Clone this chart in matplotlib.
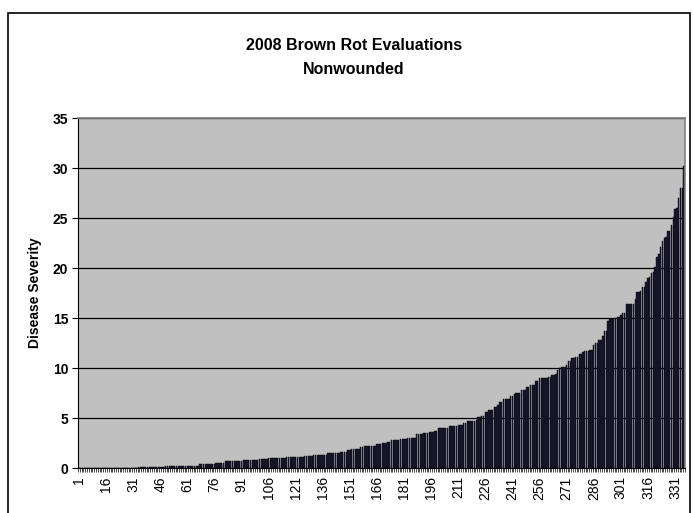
import numpy as np
import matplotlib
matplotlib.use("Agg")
import matplotlib.pyplot as plt
from matplotlib.patches import Rectangle
from matplotlib.ticker import MultipleLocator, FixedLocator

plt.rcParams['font.family'] = ['Liberation Sans', 'DejaVu Sans']

# Disease severity of each evaluated entry, sorted from lowest to highest
severity = [
    0, 0, 0, 0, 0, 0, 0, 0, 0, 0, 0, 0, 0, 0, 0,
    0, 0, 0, 0, 0, 0, 0, 0, 0, 0, 0, 0, 0, 0, 0,
    0, 0, 0, 0.1, 0.1, 0.1, 0.1, 0.1, 0.1, 0.1, 0.1, 0.1, 0.1, 0.1, 0.1,
    0.1, 0.1, 0.1, 0.2, 0.2, 0.2, 0.2, 0.2, 0.2, 0.2, 0.2, 0.2, 0.2, 0.2, 0.2,
    0.2, 0.2, 0.2, 0.2, 0.2, 0.2, 0.2, 0.4, 0.4, 0.4, 0.4, 0.4, 0.4, 0.4, 0.4,
    0.4, 0.5, 0.5, 0.5, 0.5, 0.5, 0.7, 0.7, 0.7, 0.7, 0.7, 0.7, 0.7, 0.7, 0.7,
    0.7, 0.8, 0.8, 0.8, 0.8, 0.8, 0.8, 0.8, 0.8, 0.8, 0.9, 0.9, 0.9, 0.9, 0.9,
    1.0, 1.0, 1.0, 1.0, 1.0, 1.0, 1.0, 1.0, 1.0, 1.0, 1.1, 1.1, 1.1, 1.1, 1.1,
    1.1, 1.1, 1.1, 1.1, 1.1, 1.2, 1.2, 1.2, 1.2, 1.2, 1.35, 1.35, 1.35, 1.35, 1.35,
    1.35, 1.35, 1.35, 1.5, 1.5, 1.5, 1.5, 1.5, 1.5, 1.5, 1.6, 1.6, 1.6, 1.6, 1.8,
    1.8, 1.95, 1.95, 1.95, 1.95, 1.95, 2.1, 2.1, 2.2, 2.2, 2.2, 2.2, 2.2, 2.2, 2.2,
    2.4, 2.4, 2.4, 2.5, 2.5, 2.5, 2.65, 2.65, 2.8, 2.8, 2.8, 2.8, 2.8, 2.9, 2.9,
    2.9, 2.9, 3.05, 3.05, 3.05, 3.05, 3.05, 3.4, 3.4, 3.4, 3.4, 3.5, 3.5, 3.5, 3.6,
    3.6, 3.6, 3.75, 3.75, 4.0, 4.0, 4.0, 4.0, 4.0, 4.0, 4.2, 4.2, 4.2, 4.2, 4.2,
    4.35, 4.35, 4.35, 4.5, 4.5, 4.7, 4.7, 4.7, 4.7, 4.7, 4.85, 5.1, 5.1, 5.2, 5.2,
    5.6, 5.6, 5.85, 5.85, 5.85, 6.15, 6.15, 6.3, 6.6, 6.6, 6.9, 6.9, 6.9, 6.9, 7.25,
    7.25, 7.4, 7.5, 7.5, 7.5, 7.8, 7.8, 7.8, 8.1, 8.1, 8.3, 8.3, 8.3, 8.75, 8.75,
    9.05, 9.05, 9.05, 9.05, 9.05, 9.15, 9.15, 9.3, 9.3, 9.4, 9.85, 10.0, 10.1, 10.1, 10.1,
    10.35, 10.7, 10.7, 11.0, 11.0, 11.15, 11.15, 11.4, 11.4, 11.65, 11.75, 11.75, 11.75, 11.8, 11.8,
    12.3, 12.5, 12.5, 12.8, 12.8, 13.25, 13.75, 13.75, 14.7, 14.9, 14.9, 14.9, 15.0, 15.15, 15.15,
    15.3, 15.5, 15.5, 16.45, 16.45, 16.45, 16.45, 16.45, 16.9, 17.6, 17.6, 17.75, 18.1, 18.1, 18.6,
    19.0, 19.1, 19.5, 19.6, 20.1, 21.1, 21.4, 22.1, 22.7, 23.0, 23.1, 23.7, 23.7, 24.3, 25.1,
    25.9, 26.0, 27.0, 28.0, 28.0, 30.2,
]
entries = np.arange(1, len(severity) + 1)
tick_entries = list(range(1, len(severity) + 1, 15))

fig = plt.figure(figsize=(6.93, 5.13), dpi=100)
fig.patch.set_facecolor('white')

# chart-area border
fig.add_artist(Rectangle((8 / 693, -0.05), 682 / 693, 1.05 - 13 / 513,
                         transform=fig.transFigure, fill=False,
                         edgecolor='black', linewidth=1.2))

ax = fig.add_axes([78 / 693, 1 - 468 / 513, 607 / 693, 350 / 513])
ax.set_facecolor('#C0C0C0')

ax.yaxis.grid(True, color='black', linewidth=0.9)
ax.set_axisbelow(True)

ax.bar(entries, severity, width=0.8, color='#1a1a33',
       edgecolor='#08080f', linewidth=0.3)

ax.set_xlim(0.5, len(severity) + 0.5)
ax.set_ylim(0, 35)
ax.yaxis.set_major_locator(MultipleLocator(5))
ax.xaxis.set_major_locator(FixedLocator(tick_entries))
ax.xaxis.set_minor_locator(FixedLocator(np.arange(0.5, len(severity) + 1, 1)))
ax.set_xticklabels([str(t) for t in tick_entries], rotation=90, fontsize=10)

for lbl in ax.get_yticklabels():
    lbl.set_fontweight('bold')
    lbl.set_fontsize(10)

ax.tick_params(axis='x', which='major', length=0, pad=6)
ax.tick_params(axis='x', which='minor', length=3, width=0.5, direction='out')
ax.tick_params(axis='y', which='major', length=4, width=0.8, direction='out', pad=3)

for side in ('top', 'right'):
    ax.spines[side].set_color('#808080')
    ax.spines[side].set_linewidth(1.2)
ax.spines['left'].set_color('black')
ax.spines['bottom'].set_color('black')

ax.set_ylabel('Disease Severity', fontsize=10, fontweight='bold', labelpad=8)

fig.text(354 / 693, 1 - 45 / 513, '2008 Brown Rot Evaluations', ha='center', va='center',
         fontsize=11.5, fontweight='bold')
fig.text(354 / 693, 1 - 70 / 513, 'Nonwounded', ha='center', va='center',
         fontsize=11.5, fontweight='bold')

fig.savefig('out.png', dpi=100, facecolor='white')
